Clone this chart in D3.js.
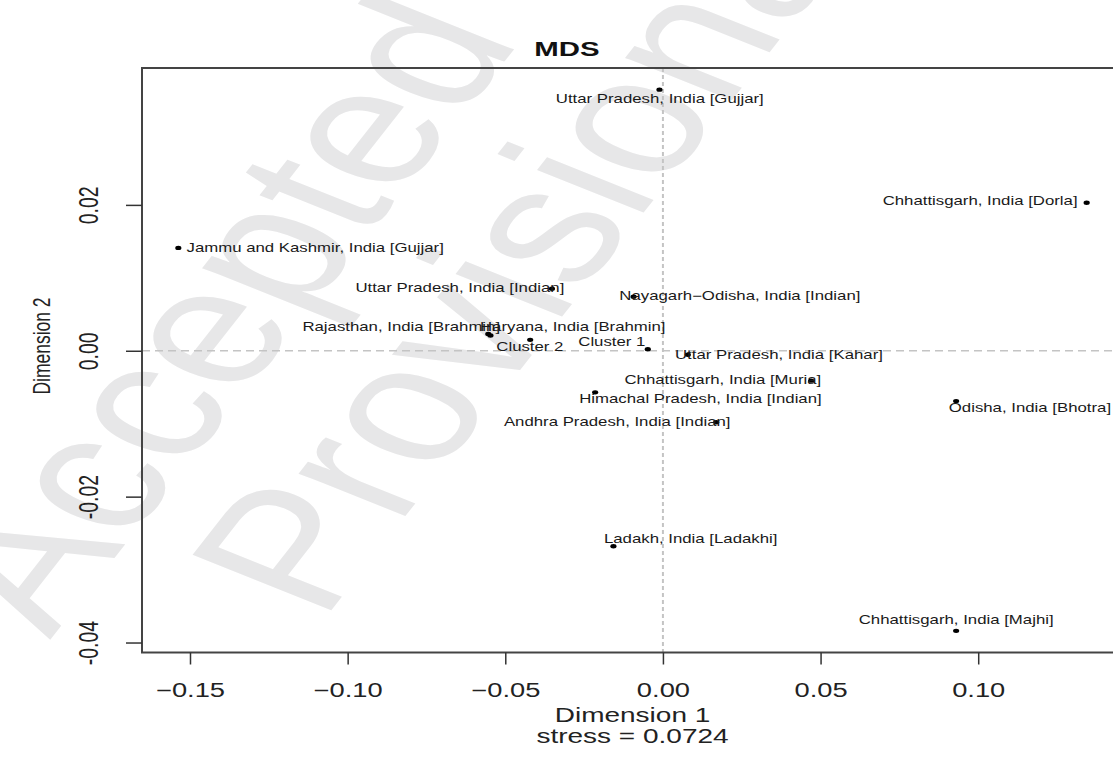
<!DOCTYPE html>
<html><head><meta charset="utf-8">
<script src="https://cdn.jsdelivr.net/npm/d3@7"></script>
<style>body{margin:0;background:#fff}svg{display:block}text{font-family:"Liberation Sans",Arial,sans-serif}</style>
</head><body><svg id="c" width="1113" height="763"></svg>
<script>
// ---- data ----
const labels = [
  "Uttar Pradesh, India [Gujjar]", "Chhattisgarh, India [Dorla]", "Jammu and Kashmir, India [Gujjar]",
  "Uttar Pradesh, India [Indian]", "Nayagarh\u2212Odisha, India [Indian]", "Rajasthan, India [Brahmin]",
  "Haryana, India [Brahmin]", "Cluster 2", "Cluster 1", "Uttar Pradesh, India [Kahar]",
  "Chhattisgarh, India [Muria]", "Himachal Pradesh, India [Indian]", "Odisha, India [Bhotra]",
  "Andhra Pradesh, India [Indian]", "Ladakh, India [Ladakhi]", "Chhattisgarh, India [Majhi]"
];
const dim1 = [-0.0011, 0.1344, -0.1537, -0.0352, -0.0093, -0.0554, -0.0547, -0.0421, -0.0048, 0.0079, 0.0470, -0.0215, 0.0930, 0.0169, -0.0157, 0.0930];
const dim2 = [0.0358, 0.0203, 0.0141, 0.0085, 0.0074, 0.0023, 0.0021, 0.0015, 0.0002, -0.00055, -0.0041, -0.0057, -0.0069, -0.0098, -0.0268, -0.0384];
// where each text label was written (data units, label centre)
const labelDim1 = [-0.0010, 0.1006, -0.1103, -0.0644, 0.0244, -0.0830, -0.0286, -0.0422, -0.0162, 0.0368, 0.0190, 0.0119, 0.1164, -0.0145, 0.0088, 0.0930];
const labelDim2 = [0.0345, 0.0206, 0.0142, 0.0086, 0.0075, 0.0033, 0.0033, 0.0006, 0.0012, -0.00055, -0.0040, -0.0066, -0.0078, -0.0097, -0.0257, -0.0368];
const xTicks = [-0.15, -0.10, -0.05, 0.00, 0.05, 0.10];
const xTickLabels = ["\u22120.15", "\u22120.10", "\u22120.05", "0.00", "0.05", "0.10"];
const yTicks = [-0.04, -0.02, 0.00, 0.02];
const yTickLabels = ["-0.04", "-0.02", "0.00", "0.02"];
const titleText = "MDS";
const xTitle = "Dimension 1";
const stressText = "stress = 0.0724";
const yTitle = "Dimension 2";
const watermark = ["Accepted", "Provisional"];

// ---- layout ----
const SX = 1.4; // horizontal stretch of the original image
const plot = {left: 142, right: 1123, top: 68, bottom: 652.5};
const svg = d3.select("#c");

function pad(ext, f) { const d = (ext[1] - ext[0]) * f; return [ext[0] - d, ext[1] + d]; }
const x = d3.scaleLinear().domain(pad(d3.extent(dim1), 0.04)).range([plot.left, plot.right]);
const y = d3.scaleLinear().domain(pad(d3.extent(dim2), 0.04)).range([plot.bottom, plot.top]);

// watermark
const wm = svg.append("g").attr("fill", "#e7e7e8").style("font-size", "165px");
const wmPos = [[50, 640], [322, 622]];
watermark.forEach((w, i) => {
  wm.append("text").attr("transform", `translate(${wmPos[i][0]},${wmPos[i][1]}) scale(${SX},1) rotate(-60.7)`).text(w);
});

// reference lines
svg.append("line").attr("x1", plot.left).attr("x2", plot.right).attr("y1", y(0)).attr("y2", y(0))
  .attr("stroke", "#c4c4c4").attr("stroke-width", 1.5).attr("stroke-dasharray", "8,5");
svg.append("line").attr("x1", x(0)).attr("x2", x(0)).attr("y1", plot.top).attr("y2", plot.bottom)
  .attr("stroke", "#c4c4c4").attr("stroke-width", 2).attr("stroke-dasharray", "4,3");

// frame
svg.append("rect").attr("x", plot.left).attr("y", plot.top).attr("width", plot.right - plot.left)
  .attr("height", plot.bottom - plot.top).attr("fill", "none").attr("stroke", "#444").attr("stroke-width", 2);

// axes
const xa = svg.append("g").attr("transform", `translate(0,${plot.bottom})`)
  .call(d3.axisBottom(x).tickValues(xTicks).tickSize(12).tickFormat((d, i) => xTickLabels[i]));
xa.select(".domain").remove();
xa.selectAll(".tick line").attr("stroke", "#333").attr("stroke-width", 1.5);
xa.selectAll(".tick text").attr("y", null).attr("dy", null).attr("fill", "#222")
  .style("font-size", "19.5px").attr("font-family", null)
  .attr("transform", `translate(0,44) scale(${SX},1)`);

const ya = svg.append("g").attr("transform", `translate(${plot.left},0)`)
  .call(d3.axisLeft(y).tickValues(yTicks).tickSize(16).tickFormat((d, i) => yTickLabels[i]));
ya.select(".domain").remove();
ya.selectAll(".tick line").attr("stroke", "#333").attr("stroke-width", 1.5);
ya.selectAll(".tick text").attr("x", null).attr("dy", null).attr("fill", "#222")
  .attr("text-anchor", "middle").style("font-size", "19.5px").attr("font-family", null)
  .attr("transform", `translate(${98 - plot.left},0) scale(${SX},1) rotate(-90)`);

// titles
const cx = (plot.left + plot.right) / 2;
svg.append("text").attr("transform", `translate(567,56) scale(${SX},1)`).attr("text-anchor", "middle")
  .style("font-size", "21px").style("font-weight", "bold").attr("fill", "#111").text(titleText);
svg.append("text").attr("transform", `translate(${cx},722) scale(${SX},1)`).attr("text-anchor", "middle")
  .style("font-size", "20px").attr("fill", "#222").text(xTitle);
svg.append("text").attr("transform", `translate(${cx},743) scale(${SX},1)`).attr("text-anchor", "middle")
  .style("font-size", "20px").attr("fill", "#222").text(stressText);
svg.append("text").attr("transform", `translate(50,346) scale(${SX},1) rotate(-90)`)
  .attr("text-anchor", "middle").style("font-size", "17.5px").attr("fill", "#222").text(yTitle);

// points
svg.append("g").selectAll("ellipse").data(dim1).join("ellipse")
  .attr("cx", (d, i) => x(d)).attr("cy", (d, i) => y(dim2[i]))
  .attr("rx", 2.2 * SX).attr("ry", 2.2).attr("fill", "#000");

// labels
svg.append("g").selectAll("text").data(labels).join("text")
  .attr("transform", (d, i) => `translate(${x(labelDim1[i])},${y(labelDim2[i])}) scale(${SX},1)`)
  .attr("text-anchor", "middle").attr("dy", "0.36em").style("font-size", "12px").attr("fill", "#1a1a1a")
  .text(d => d);
</script></body></html>
